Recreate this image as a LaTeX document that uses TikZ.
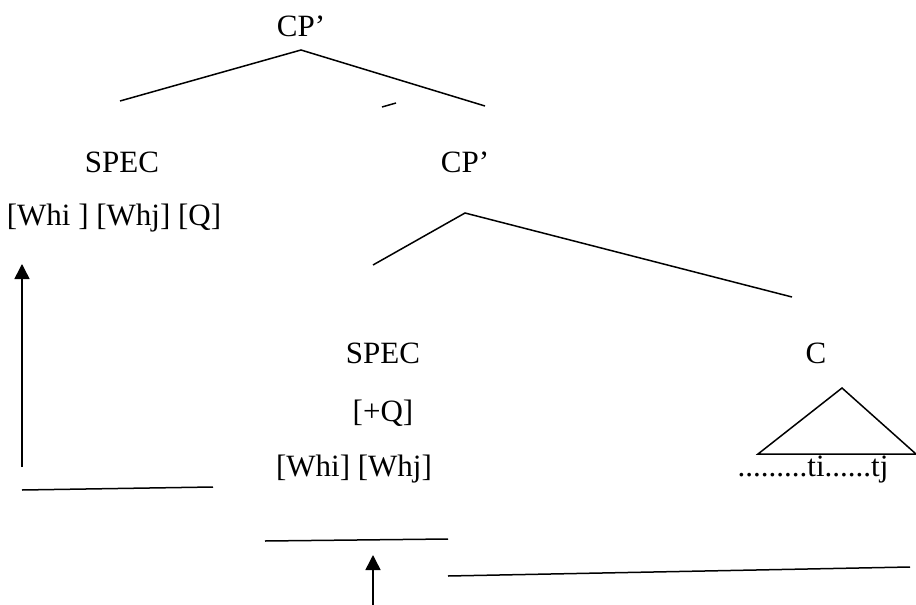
\documentclass[tikz,border=0pt]{standalone}
\usepackage{fontspec}
\setmainfont{Liberation Serif}
\usetikzlibrary{arrows.meta}
\begin{document}
\begin{tikzpicture}[x=1pt,y=-1pt,
  lbl/.style={inner sep=0pt,anchor=base,font=\fontsize{31}{33}\selectfont},
  branch/.style={line width=1.5pt},
  move/.style={line width=1.5pt,-{Triangle[length=15pt,width=15pt]}}]
\useasboundingbox (0,0) rectangle (916,605);
% labels
\node[lbl] (cp1) at (301,36) {CP’};
\node[lbl] (spec1) at (122,172) {SPEC};
\node[lbl] (cp2) at (465,172) {CP’};
\node[lbl] (wh1) at (114,225) {[Whi ] [Whj] [Q]};
\node[lbl] (spec2) at (383,363) {SPEC};
\node[lbl] (c) at (816,363) {C};
\node[lbl] (q) at (383,421) {[+Q]};
\node[lbl] (wh2) at (354,476) {[Whi] [Whj]};
\node[lbl] (trace) at (813,476) {.........ti......tj};
% upper tree
\coordinate (t1) at (301,50);
\coordinate (l1) at (120,101);
\coordinate (r1) at (485,106);
\draw[branch] (l1) -- (t1) -- (r1);
\coordinate (d1) at (382,107);
\coordinate (d2) at (396,103);
\draw[branch] (d1) -- (d2);
% lower tree
\coordinate (t2) at (465,213);
\coordinate (l2) at (373,265);
\coordinate (r2) at (792,297);
\draw[branch] (l2) -- (t2) -- (r2);
% triangle over C
\coordinate (ta) at (842,388);
\coordinate (tl) at (758,454);
\coordinate (tr) at (916,454);
\draw[branch] (tr) -- (ta) -- (tl) -- (tr);
% movement lines
\coordinate (a1) at (22,467);
\coordinate (a1t) at (22,264);
\draw[move] (a1) -- (a1t);
\coordinate (h1) at (22,490);
\coordinate (h2) at (213,487);
\draw[branch] (h1) -- (h2);
\coordinate (h3) at (265,541);
\coordinate (h4) at (448,539);
\draw[branch] (h3) -- (h4);
\coordinate (a2) at (373,605);
\coordinate (a2t) at (373,555);
\draw[move] (a2) -- (a2t);
\coordinate (h5) at (448,576);
\coordinate (h6) at (910,567);
\draw[branch] (h5) -- (h6);
\end{tikzpicture}
\end{document}
